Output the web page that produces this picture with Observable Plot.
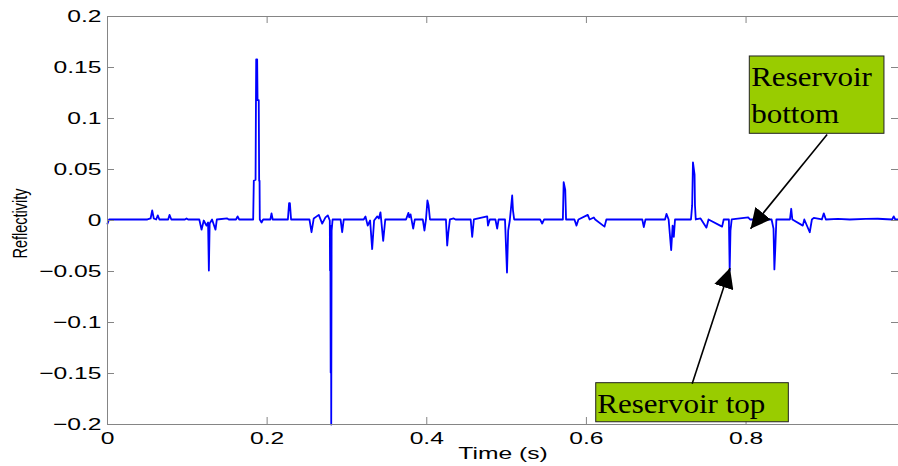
<!DOCTYPE html>
<html><head><meta charset="utf-8">
<script src="https://cdn.jsdelivr.net/npm/d3@7"></script>
<script src="https://cdn.jsdelivr.net/npm/@observablehq/plot@0.6"></script>
<style>html,body{margin:0;padding:0;background:#fff;overflow:hidden}</style>
</head><body><div id="chart"></div>
<script>
// ---- data ----
const time = [
  0.000, 0.002, 0.050, 0.054, 0.056, 0.058, 0.061, 0.063, 0.065, 0.076,
  0.0777, 0.080, 0.097, 0.099, 0.101, 0.115, 0.1178, 0.1206, 0.124, 0.126,
  0.127, 0.128, 0.131, 0.1353, 0.137, 0.150, 0.152, 0.161, 0.163, 0.165,
  0.1825, 0.1833, 0.1855, 0.1860, 0.1863, 0.1875, 0.1880, 0.1895, 0.1900, 0.1905,
  0.1908, 0.193, 0.195, 0.204, 0.2055, 0.207, 0.226, 0.2275, 0.2285, 0.230,
  0.253, 0.2556, 0.2584, 0.2647, 0.269, 0.2731, 0.2760, 0.2785, 0.2788, 0.2792,
  0.2796, 0.2800, 0.2803, 0.2808, 0.2820, 0.292, 0.294, 0.296, 0.321, 0.3232,
  0.326, 0.329, 0.3316, 0.334, 0.338, 0.340, 0.342, 0.3454, 0.348, 0.374,
  0.377, 0.378, 0.3797, 0.383, 0.385, 0.395, 0.3971, 0.399, 0.4008, 0.4022,
  0.404, 0.424, 0.4256, 0.427, 0.429, 0.4338, 0.436, 0.455, 0.4569, 0.459,
  0.4757, 0.4767, 0.479, 0.486, 0.4882, 0.490, 0.498, 0.4995, 0.5005, 0.502,
  0.504, 0.5055, 0.507, 0.508, 0.5095, 0.542, 0.5446, 0.547, 0.5705, 0.5715,
  0.5735, 0.5745, 0.585, 0.5876, 0.590, 0.6017, 0.604, 0.6093, 0.611, 0.6227,
  0.625, 0.670, 0.6719, 0.674, 0.6985, 0.7003, 0.7030, 0.7062, 0.708, 0.7095,
  0.711, 0.731, 0.7325, 0.7335, 0.7355, 0.736, 0.737, 0.743, 0.7504, 0.753,
  0.770, 0.772, 0.7785, 0.7795, 0.7805, 0.782, 0.8027, 0.805, 0.832, 0.8344,
  0.8355, 0.8365, 0.838, 0.855, 0.8566, 0.858, 0.8711, 0.873, 0.8798, 0.8825,
  0.8849, 0.895, 0.8974, 0.900, 0.915, 0.930, 0.950, 0.965, 0.983, 0.985,
  0.987, 0.991
];
const reflectivity = [
  -0.003, 0.001, 0.001, 0.002, 0.010, 0.002, 0.001, 0.005, 0.001, 0.001,
  0.0055, 0.001, 0.001, 0.002, 0.001, 0.001, -0.009, 0.000, -0.005, -0.002,
  -0.049, -0.003, 0.001, -0.009, 0.001, 0.002, 0.001, 0.001, 0.004, 0.001,
  0.001, 0.039, 0.040, 0.118, 0.158, 0.158, 0.118, 0.118, 0.039, 0.039,
  0.001, -0.002, 0.001, 0.001, 0.007, 0.001, 0.001, 0.017, 0.017, 0.001,
  0.001, -0.0115, 0.002, 0.0055, -0.003, 0.003, 0.005, 0.000, -0.049, -0.005,
  -0.149, -0.030, -0.200, -0.010, 0.001, 0.001, -0.0115, 0.001, 0.001, 0.004,
  -0.005, 0.000, -0.028, 0.000, 0.004, 0.002, 0.008, -0.020, 0.001, 0.001,
  0.0075, 0.003, 0.006, -0.008, 0.001, 0.001, -0.0098, 0.001, 0.0196, 0.015,
  0.001, 0.001, -0.0245, -0.012, 0.001, 0.002, 0.001, 0.001, -0.016, 0.001,
  0.004, -0.005, 0.001, 0.001, -0.008, 0.001, 0.001, -0.030, -0.051, -0.010,
  0.000, 0.012, 0.0245, 0.010, 0.001, 0.001, -0.003, 0.001, 0.001, 0.0375,
  0.030, 0.001, 0.001, -0.005, 0.001, 0.0055, 0.001, 0.003, 0.001, -0.006,
  0.001, 0.001, -0.0065, 0.001, 0.001, 0.0065, 0.001, -0.029, -0.005, -0.016,
  0.001, 0.001, 0.015, 0.057, 0.045, 0.015, 0.001, 0.002, -0.007, 0.001,
  -0.006, 0.001, 0.001, -0.049, -0.010, 0.001, 0.003, 0.001, 0.001, -0.008,
  -0.048, -0.030, 0.001, 0.001, 0.0115, 0.001, -0.005, 0.001, -0.0115, 0.001,
  0.0026, 0.001, 0.007, 0.001, 0.0015, 0.001, 0.0015, 0.0017, 0.001, 0.004,
  0.001, 0.001
];
const xTicks = [0, 0.2, 0.4, 0.6, 0.8];
const yTicks = [-0.2, -0.15, -0.1, -0.05, 0, 0.05, 0.1, 0.15, 0.2];
const xLabel = "Time (s)";
const yLabel = "Reflectivity";

// annotations (data coordinates)
const noteText = ["Reservoir\nbottom", "Reservoir top"];
const noteBoxLeft = [0.8047, 0.6123];
const noteBoxRight = [0.9734, 0.8536];
const noteBoxTop = [0.1608, -0.1595];
const noteBoxBottom = [0.0850, -0.1978];
const noteTextX = [0.8064, 0.6135];
const noteTextY = [0.0954, -0.1885];
const arrowFromX = [0.9016, 0.7325];
const arrowFromY = [0.0843, -0.1601];
const arrowToX = [0.8056, 0.7799];
const arrowToY = [-0.0081, -0.0466];

// ---- chart ----
const W = 898, H = 466, ML = 107, MR = 0, MT = 16, MB = 42;
const innerW = W - ML - MR, innerH = H - MT - MB;
const axisColor = "#858585";
const series = time.map((t, i) => ({t, r: reflectivity[i]}));
const notes = noteText.map((text, i) => ({
  text, bx1: noteBoxLeft[i], bx2: noteBoxRight[i], by1: noteBoxBottom[i], by2: noteBoxTop[i],
  tx: noteTextX[i], ty: noteTextY[i],
  ax1: arrowFromX[i], ay1: arrowFromY[i], ax2: arrowToX[i], ay2: arrowToY[i]
}));
const fmt = d => d === 0 ? "0" : String(d).replace("-", "\u2212");

const chart = Plot.plot({
  width: W, height: H,
  marginLeft: ML, marginRight: MR, marginTop: MT, marginBottom: MB,
  style: {fontFamily: "'Liberation Sans', Arial, Helvetica, sans-serif", fontSize: "17px", background: "#fff", color: "#000"},
  x: {domain: [0, 0.991], ticks: xTicks, tickSize: 0, tickPadding: 7.5, tickFormat: fmt, label: null},
  y: {domain: [-0.2, 0.2], ticks: yTicks, tickSize: 0, tickPadding: 6, tickFormat: fmt, label: null},
  marks: [
    Plot.line(series, {x: "t", y: "r", stroke: "#0000ff", strokeWidth: 1.8}),
    Plot.ruleX([0], {stroke: axisColor}),
    Plot.ruleY([-0.2, 0.2], {stroke: axisColor}),
    Plot.tickY(yTicks, {y: d => d, stroke: axisColor, insetRight: innerW - 7}),
    Plot.tickY(yTicks, {y: d => d, stroke: axisColor, insetLeft: innerW - 7}),
    Plot.tickX(xTicks, {x: d => d, stroke: axisColor, insetTop: innerH - 7}),
    Plot.tickX(xTicks, {x: d => d, stroke: axisColor, insetBottom: innerH - 7}),
    Plot.text([xLabel], {frameAnchor: "bottom", dy: 34, text: d => d}),
    Plot.text([yLabel], {frameAnchor: "left", textAnchor: "middle", dx: -87, dy: 3, rotate: -90, text: d => d, fontSize: 14.5}),
    Plot.rect(notes, {x1: "bx1", x2: "bx2", y1: "by1", y2: "by2", fill: "#99cc00", stroke: "#222", strokeWidth: 1}),
    Plot.text(notes, {x: "tx", y: "ty", text: "text", textAnchor: "start", lineAnchor: "bottom", lineHeight: 1.37,
      fontFamily: "'Liberation Serif', 'Times New Roman', serif", fontSize: 27.5, fill: "#000"}),
    Plot.link(notes, {x1: "ax1", y1: "ay1", x2: "ax2", y2: "ay2", stroke: "#000", strokeWidth: 1.6, markerEnd: "arrow"})
  ]
});
document.getElementById("chart").append(chart);
const svg = chart.tagName.toLowerCase() === "svg" ? chart : chart.querySelector("svg");

// horizontal stretch of text (the reference figure is stretched horizontally)
const noteKeys = new Set(noteText.map(s => s.replace(/\n/g, "")));
svg.querySelectorAll("text").forEach(t => {
  const content = t.textContent.replace(/\n/g, "");
  const b = t.getBBox();
  const prev = t.getAttribute("transform") || "";
  if (content === yLabel) {
    // rotated label: its local y axis runs horizontally on screen
    const py = b.y + b.height / 2;
    t.setAttribute("transform", `${prev} translate(0,${py}) scale(1,1.4) translate(0,${-py})`);
    return;
  }
  const s = noteKeys.has(content) ? 1.13 : 1.45;
  const a = getComputedStyle(t).textAnchor;
  const px = a === "end" ? b.x + b.width : a === "middle" ? b.x + b.width / 2 : b.x;
  t.setAttribute("transform", `${prev} translate(${px},0) scale(${s},1) translate(${-px},0)`);
});

// filled triangular arrowheads
svg.querySelectorAll("marker").forEach(m => {
  m.setAttribute("viewBox", "-10 -5 10 10");
  m.setAttribute("markerUnits", "userSpaceOnUse");
  m.setAttribute("markerWidth", 20);
  m.setAttribute("markerHeight", 20);
  m.setAttribute("fill", "#000");
  m.setAttribute("stroke", "none");
  while (m.firstChild) m.removeChild(m.firstChild);
  const p = document.createElementNS("http://www.w3.org/2000/svg", "path");
  p.setAttribute("d", "M-10,-5L0,0L-10,5Z");
  p.setAttribute("fill", "#000");
  p.setAttribute("stroke", "none");
  m.appendChild(p);
});
</script>
</body></html>
